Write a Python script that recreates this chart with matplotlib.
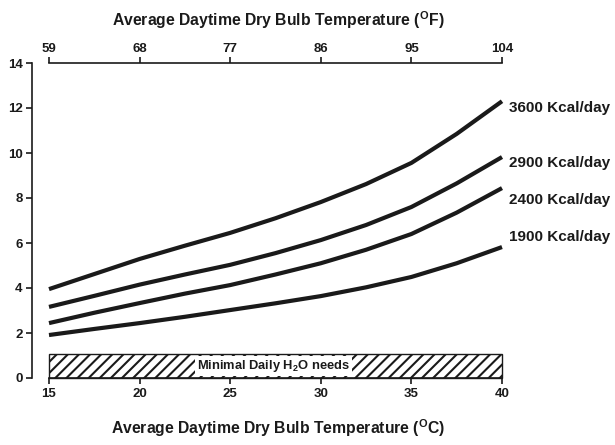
import matplotlib
matplotlib.use("Agg")
import matplotlib.pyplot as plt
from matplotlib.patches import Rectangle

plt.rcParams['font.family'] = ['Liberation Sans', 'DejaVu Sans']
plt.rcParams['font.weight'] = 'bold'
plt.rcParams['mathtext.fontset'] = 'custom'
plt.rcParams['mathtext.rm'] = 'Liberation Sans:bold'
plt.rcParams['mathtext.bf'] = 'Liberation Sans:bold'
plt.rcParams['mathtext.it'] = 'Liberation Sans:bold'
plt.rcParams['hatch.linewidth'] = 1.5

temps_c = [15, 17.5, 20, 22.5, 25, 27.5, 30, 32.5, 35, 37.5, 40]
kcal_3600 = [3.95, 4.62, 5.29, 5.88, 6.45, 7.10, 7.82, 8.62, 9.56, 10.85, 12.3]
kcal_2900 = [3.16, 3.65, 4.15, 4.60, 5.03, 5.55, 6.13, 6.80, 7.60, 8.65, 9.82]
kcal_2400 = [2.44, 2.90, 3.33, 3.75, 4.13, 4.60, 5.10, 5.70, 6.40, 7.35, 8.44]
kcal_1900 = [1.91, 2.18, 2.44, 2.72, 3.02, 3.32, 3.64, 4.03, 4.49, 5.10, 5.82]
series_labels = ["3600 Kcal/day", "2900 Kcal/day", "2400 Kcal/day", "1900 Kcal/day"]
label_y = [12.0, 9.55, 7.9, 6.27]
min_need = 1.07
c_ticks = [15, 20, 25, 30, 35, 40]
f_ticks = [59, 68, 77, 86, 95, 104]
y_ticks = [0, 2, 4, 6, 8, 10, 12, 14]

fig = plt.figure(figsize=(6.15, 4.45), dpi=100)
ax = fig.add_axes([49/615, 1-378/445, (502-49)/615, (378-63)/445])

col = '#1a1a1a'
for vals in [kcal_3600, kcal_2900, kcal_2400, kcal_1900]:
    ax.plot(temps_c, vals, color=col, lw=3.0, solid_capstyle='butt',
            solid_joinstyle='round', clip_on=False)

ax.add_patch(Rectangle((15, 0), 25, min_need, facecolor='white', edgecolor=col,
                       hatch='///', lw=1.0, clip_on=False))
ax.text(27.4, 0.53, "Minimal Daily H$_2$O needs", ha='center', va='center', fontsize=9.3,
        color=col, bbox=dict(facecolor='white', edgecolor='none', pad=1.5))

for lab, yy in zip(series_labels, label_y):
    ax.text(40.4, yy, lab, ha='left', va='center', fontsize=11, color=col, clip_on=False)

ax.set_xlim(15, 40)
ax.set_ylim(0, 14)
ax.set_xticks(c_ticks)
ax.set_yticks(y_ticks)
ax.spines['right'].set_visible(False)
ax.spines['top'].set_visible(False)
ax.spines['left'].set_position(('outward', 12))
for s in ['left', 'bottom']:
    ax.spines[s].set_linewidth(1.2)
    ax.spines[s].set_color(col)
ax.tick_params(axis='both', direction='out', length=4, width=1.2, colors=col, labelsize=9.5, pad=3)

sec = ax.secondary_xaxis('top', functions=(lambda c: c * 9 / 5 + 32, lambda f: (f - 32) * 5 / 9))
sec.set_xticks(f_ticks)
sec.spines['top'].set_linewidth(1.2)
sec.spines['top'].set_color(col)
sec.tick_params(direction='out', length=4, width=1.2, colors=col, labelsize=9.5, pad=2)

fig.text(0.452, 1-20/445, "Average Daytime Dry Bulb Temperature (${}^{\\mathrm{O}}$F)",
         ha='center', va='center', fontsize=11.3, color=col)
fig.text(0.452, 1-428/445, "Average Daytime Dry Bulb Temperature (${}^{\\mathrm{O}}$C)",
         ha='center', va='center', fontsize=11.3, color=col)

fig.savefig("out.png", dpi=100)
